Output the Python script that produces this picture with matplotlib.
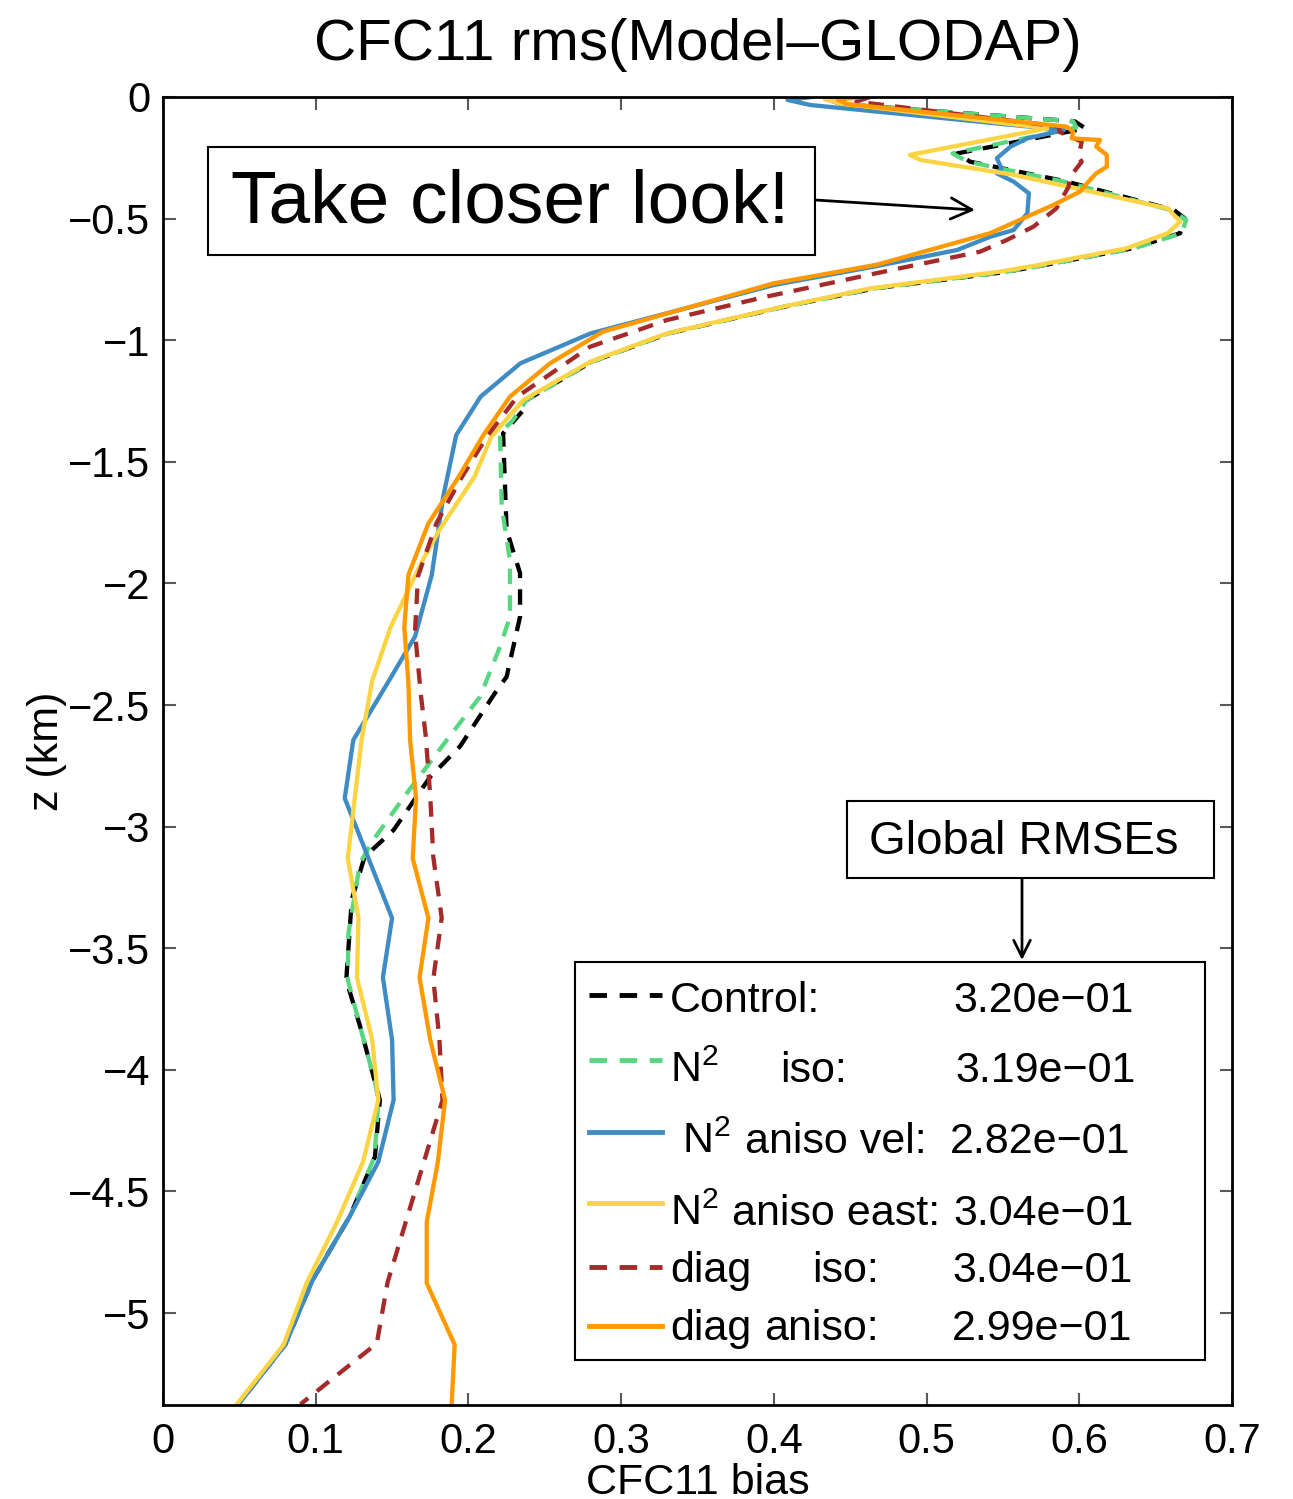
import matplotlib
matplotlib.use("Agg")
import matplotlib.pyplot as plt
from matplotlib.patches import Rectangle
from matplotlib.lines import Line2D
from matplotlib.transforms import Affine2D

plt.rcParams['font.family'] = ['Liberation Sans', 'DejaVu Sans']
plt.rcParams['mathtext.fontset'] = 'custom'
plt.rcParams['mathtext.rm'] = 'Liberation Sans'
plt.rcParams['mathtext.it'] = 'Liberation Sans:italic'
plt.rcParams['mathtext.bf'] = 'Liberation Sans:bold'

# CFC11 rms error profiles, depth in km (negative down)
z_control = [0, -0.01, -0.03, -0.10, -0.129, -0.232, -0.266, -0.348, -0.465, -0.499, -0.56, -0.622,
             -0.69, -0.72, -0.787, -0.862, -0.972, -1.088, -1.246, -1.287, -1.383, -1.78, -1.958,
             -2.137, -2.384, -2.44, -2.67, -2.795, -3.014, -3.124, -3.30, -3.63, -3.82, -4.05,
             -4.124, -4.357, -4.60, -4.864, -5.13, -5.378]
rms_control = [0.45, 0.435, 0.445, 0.597, 0.604, 0.520, 0.5285, 0.592, 0.662, 0.669, 0.666, 0.635,
               0.578, 0.551, 0.466, 0.407, 0.331, 0.281, 0.238, 0.236, 0.2227, 0.225, 0.2338,
               0.2338, 0.225, 0.2185, 0.1945, 0.175, 0.151, 0.132, 0.1236, 0.120, 0.129, 0.1388,
               0.142, 0.1388, 0.1225, 0.098, 0.080, 0.049]

z_n2_iso = [0, -0.01, -0.03, -0.10, -0.125, -0.232, -0.266, -0.348, -0.465, -0.505, -0.56, -0.622,
            -0.69, -0.72, -0.787, -0.862, -0.972, -1.088, -1.246, -1.33, -1.383, -1.685, -1.904,
            -2.137, -2.26, -2.466, -2.644, -2.754, -2.863, -3.055, -3.15, -3.44, -3.63, -3.82,
            -4.05, -4.124, -4.357, -4.60, -4.864, -5.13, -5.378]
rms_n2_iso = [0.45, 0.435, 0.445, 0.596, 0.598, 0.517, 0.527, 0.590, 0.660, 0.670, 0.667, 0.636,
              0.578, 0.551, 0.466, 0.407, 0.331, 0.281, 0.238, 0.229, 0.2207, 0.2218, 0.2272,
              0.2272, 0.2207, 0.2076, 0.1858, 0.1727, 0.1596, 0.1377, 0.129, 0.1214, 0.121, 0.129,
              0.1388, 0.141, 0.1385, 0.1225, 0.098, 0.080, 0.049]

z_n2_vel = [0, -0.012, -0.033, -0.136, -0.17, -0.204, -0.252, -0.293, -0.314, -0.348, -0.396,
            -0.478, -0.547, -0.574, -0.629, -0.698, -0.773, -0.972, -1.095, -1.232, -1.39,
            -1.643, -1.965, -2.219, -2.41, -2.644, -2.883, -3.376, -3.62, -3.877, -4.124,
            -4.378, -4.60, -4.864, -5.13, -5.378]
rms_n2_vel = [0.425, 0.409, 0.424, 0.590, 0.566, 0.555, 0.546, 0.549, 0.546, 0.557, 0.567,
              0.566, 0.557, 0.542, 0.52, 0.465, 0.40, 0.28, 0.234, 0.208, 0.192,
              0.1835, 0.176, 0.165, 0.147, 0.1246, 0.119, 0.15, 0.144, 0.150, 0.151,
              0.141, 0.1225, 0.098, 0.080, 0.049]

z_n2_east = [0, -0.01, -0.026, -0.129, -0.238, -0.259, -0.32, -0.458, -0.513, -0.56, -0.622,
             -0.69, -0.718, -0.787, -0.862, -0.972, -1.088, -1.246, -1.397, -1.561, -1.78,
             -1.917, -2.18, -2.40, -2.644, -3.13, -3.376, -3.62, -3.877, -4.124, -4.378,
             -4.625, -4.877, -5.13, -5.378]
rms_n2_east = [0.45, 0.4335, 0.443, 0.579, 0.489, 0.496, 0.557, 0.658, 0.666, 0.658, 0.631,
               0.574, 0.548, 0.463, 0.406, 0.33, 0.28, 0.236, 0.215, 0.204, 0.181,
               0.169, 0.149, 0.137, 0.130, 0.121, 0.128, 0.127, 0.137, 0.141, 0.131,
               0.114, 0.094, 0.079, 0.048]

z_diag_iso = [0, -0.019, -0.122, -0.143, -0.184, -0.245, -0.266, -0.328, -0.369, -0.458, -0.533,
              -0.588, -0.636, -0.704, -0.821, -0.917, -1.027, -1.232, -1.397, -1.57, -1.753,
              -1.97, -2.2, -2.466, -2.625, -2.875, -3.125, -3.375, -3.625, -3.875, -4.125,
              -4.375, -4.625, -4.875, -5.125, -5.375]
rms_diag_iso = [0.463, 0.454, 0.587, 0.587, 0.6016, 0.5995, 0.6016, 0.594, 0.593, 0.585, 0.57,
                0.5525, 0.535, 0.4826, 0.395, 0.33, 0.2796, 0.232, 0.212, 0.195, 0.179,
                0.167, 0.165, 0.169, 0.172, 0.175, 0.177, 0.1825, 0.177, 0.181, 0.183,
                0.171, 0.159, 0.147, 0.140, 0.090]

z_diag_aniso = [0, -0.012, -0.029, -0.122, -0.143, -0.17, -0.177, -0.204, -0.238, -0.287, -0.314,
                -0.355, -0.389, -0.444, -0.56, -0.663, -0.69, -0.766, -0.965, -1.095, -1.232,
                -1.39, -1.575, -1.753, -1.965, -2.18, -2.41, -2.644, -2.883, -3.13, -3.376,
                -3.62, -3.877, -4.124, -4.378, -4.625, -4.877, -5.13, -5.378]
rms_diag_aniso = [0.4565, 0.442, 0.4477, 0.5918, 0.596, 0.595, 0.6136, 0.611, 0.618, 0.618, 0.611,
                  0.605, 0.6005, 0.583, 0.5416, 0.4826, 0.467, 0.40, 0.288, 0.2534, 0.2272,
                  0.2098, 0.1923, 0.1738, 0.1607, 0.158, 0.1607, 0.1618, 0.1657, 0.1635, 0.1738,
                  0.168, 0.175, 0.1847, 0.180, 0.1727, 0.1727, 0.191, 0.189]

# legend rows: (label pieces, global rmse)
run_labels = [[("Control:", 670)],
              [(r"N$^2$", 670), ("iso:", 780)],
              [(r"N$^2$", 682), ("aniso vel:", 745)],
              [(r"N$^2$", 670), ("aniso east:", 732)],
              [("diag", 670), ("iso:", 812)],
              [("diag", 670), ("aniso:", 764)]]
global_rmse = ["3.20e\u221201", "3.19e\u221201", "2.82e\u221201", "3.04e\u221201", "3.04e\u221201", "2.99e\u221201"]

dash = (0, (3.6, 2.6))
styles = [dict(color="black", ls=dash),
          dict(color="#58d680", ls=dash),
          dict(color="#3f8bc4", ls="-"),
          dict(color="#fbd444", ls="-"),
          dict(color="#a52a2a", ls=dash),
          dict(color="#ff9900", ls="-")]
profiles = [(rms_control, z_control), (rms_n2_iso, z_n2_iso), (rms_n2_vel, z_n2_vel),
            (rms_n2_east, z_n2_east), (rms_diag_iso, z_diag_iso), (rms_diag_aniso, z_diag_aniso)]

W, H = 1293, 1499
fig = plt.figure(figsize=(W / 100, H / 100), dpi=100)
ax = fig.add_axes([163 / W, 1 - 1405 / H, (1232 - 163) / W, (1405 - 97) / H])

for (v, z), st in zip(profiles, styles):
    ax.plot(v, z, color=st["color"], linestyle=st["ls"], lw=3.1, dash_capstyle="butt")

ax.set_xlim(0, 0.7)
ax.set_ylim(-5.378, 0)
ax.set_xticks([0, 0.1, 0.2, 0.3, 0.4, 0.5, 0.6, 0.7])
ax.set_xticklabels(["0", "0.1", "0.2", "0.3", "0.4", "0.5", "0.6", "0.7"])
yt = [0, -0.5, -1, -1.5, -2, -2.5, -3, -3.5, -4, -4.5, -5]
ax.set_yticks(yt)
ax.set_yticklabels([("%g" % t).replace("-", "\u2212") for t in yt])
ax.tick_params(direction="in", length=9, width=1.5, color="0.35", labelsize=30,
               top=True, right=True)
ax.tick_params(axis="x", pad=12)
ax.tick_params(axis="y", pad=9)
for s in ax.spines.values():
    s.set_linewidth(2)

ax.set_title("CFC11 rms(Model\u2013GLODAP)", fontsize=42, pad=27)
ax.set_xlabel("CFC11 bias", fontsize=31, va="top")
ax.xaxis.set_label_coords(0.5, -0.044)
ax.set_ylabel("z (km)", fontsize=31)
ax.yaxis.set_label_coords(-0.09, 0.5)

# pixel coordinates measured from the top-left corner
px = Affine2D().scale(1 / W, -1 / H).translate(0, 1) + fig.transFigure

fig.add_artist(Rectangle((208, 147), 607, 108, transform=px, fill=True, facecolor="white",
                         edgecolor="black", lw=1.5))
fig.text(510, 203, "Take closer look!", transform=px, fontsize=54, ha="center", va="center")
ax.annotate("", xy=(975, H - 210), xytext=(815, H - 200), xycoords="figure pixels",
            textcoords="figure pixels",
            arrowprops=dict(arrowstyle="->", lw=2, mutation_scale=38, shrinkA=0, shrinkB=0))

fig.add_artist(Rectangle((847, 801), 367, 77, transform=px, facecolor="white",
                         edgecolor="black", lw=1.5))
fig.text(1024, 842, "Global RMSEs", transform=px, fontsize=34, ha="center", va="center")
ax.annotate("", xy=(1022, H - 960), xytext=(1022, H - 879), xycoords="figure pixels",
            textcoords="figure pixels",
            arrowprops=dict(arrowstyle="->", lw=2, mutation_scale=30, shrinkA=0, shrinkB=0))

# legend box
fig.add_artist(Rectangle((575, 962), 630, 398, transform=px, facecolor="white",
                         edgecolor="black", lw=1.5))
handle_y = [995, 1060, 1132, 1203, 1267, 1326]
text_base = [1012, 1082, 1153, 1225, 1282, 1340]
value_x = [953, 955, 950, 953, 952, 952]
for st, hy, by, pieces, val, vx in zip(styles, handle_y, text_base, run_labels, global_rmse, value_x):
    fig.add_artist(Line2D([589, 662], [hy, hy], transform=px, color=st["color"],
                          linestyle=st["ls"], lw=3.5, dash_capstyle="butt"))
    for txt, tx in pieces:
        fig.text(tx, by, txt, transform=px, fontsize=31, ha="left", va="baseline")
    fig.text(vx, by, val, transform=px, fontsize=31, ha="left", va="baseline")

fig.savefig("out.png", dpi=100)
